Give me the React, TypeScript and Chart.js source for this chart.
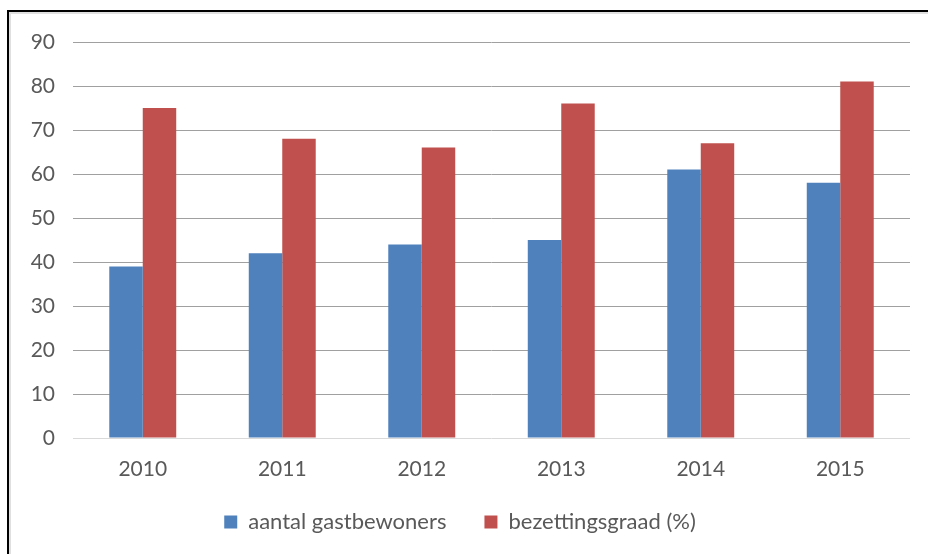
import React, { useEffect, useRef } from "react";
import { Chart, registerables } from "chart.js";

Chart.register(...registerables);

const categories = ["2010", "2011", "2012", "2013", "2014", "2015"];
const gastbewoners = [39, 42, 44, 45, 61, 58];
const bezettingsgraad = [75, 68, 66, 76, 67, 81];
const seriesNames = ["aantal gastbewoners", "bezettingsgraad (%)"];
const yTicks = { min: 0, max: 90, step: 10 };

const FONT = "Lato, 'Open Sans', sans-serif";
const FS = 21;

export default function App() {
  const ref = useRef<HTMLCanvasElement | null>(null);

  useEffect(() => {
    if (!ref.current) return;
    const chart = new Chart(ref.current, {
      type: "bar",
      data: {
        labels: categories,
        datasets: [
          {
            label: seriesNames[0],
            data: gastbewoners,
            backgroundColor: "#4F81BD",
            borderWidth: 0,
          },
          {
            label: seriesNames[1],
            data: bezettingsgraad,
            backgroundColor: "#C0504D",
            borderWidth: 0,
          },
        ],
      },
      options: {
        animation: false,
        responsive: false,
        maintainAspectRatio: false,
        layout: { padding: { left: 10, right: 18, top: 42, bottom: 11 } },
        datasets: {
          bar: { categoryPercentage: 0.48, barPercentage: 1 },
        },
        plugins: {
          tooltip: { enabled: false },
          legend: {
            position: "bottom",
            labels: {
              boxWidth: 13,
              boxHeight: 13,
              padding: 38,
              color: "#595959",
              font: { family: FONT, size: 22 },
            },
          },
        },
        scales: {
          x: {
            grid: { display: false },
            border: { display: false },
            ticks: { color: "#595959", font: { family: FONT, size: FS }, padding: 11 },
            afterFit: (s: any) => {
              s.height = 35;
            },
          },
          y: {
            min: yTicks.min,
            max: yTicks.max,
            border: { display: false },
            grid: {
              drawTicks: false,
              color: (c: any) => (c.tick && c.tick.value === 0 ? "#d9d9d9" : "#a0a0a0"),
              lineWidth: 1,
            },
            ticks: {
              stepSize: yTicks.step,
              color: "#595959",
              font: { family: FONT, size: FS },
              padding: 18,
            },
            afterFit: (s: any) => {
              s.width = 63;
            },
          },
        },
      },
    });
    const xs: any = chart.scales.x;
    if (xs) {
      xs._computeLabelArea = () => undefined;
      chart.draw();
    }
    return () => chart.destroy();
  }, []);

  return (
    <div style={{ position: "absolute", left: 0, top: 0, width: 928, height: 554, background: "#fff", overflow: "hidden" }}>
      <div
        style={{
          position: "absolute",
          left: 7,
          top: 10,
          width: 940,
          height: 560,
          borderLeft: "2px solid #000",
          borderTop: "2px solid #000",
          boxShadow: "inset 2px 2px 0 #e0e0e0",
        }}
      />
      <canvas ref={ref} width={928} height={554} style={{ position: "absolute", left: 0, top: 0 }} />
    </div>
  );
}
